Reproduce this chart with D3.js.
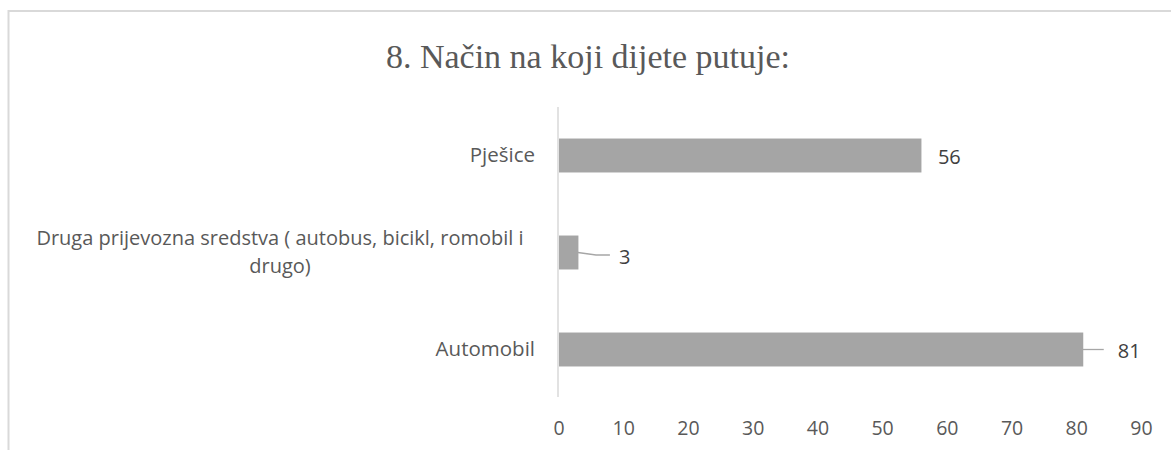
<!DOCTYPE html>
<html><head><meta charset="utf-8">
<script src="https://cdn.jsdelivr.net/npm/d3@7/dist/d3.min.js"></script>
<style>
html,body{margin:0;padding:0;background:#fff;}
svg{display:block;}
</style></head>
<body>
<svg id="chart" width="1171" height="450"></svg>
<script>
const title = "8. Način na koji dijete putuje:";
const categories = ["Pješice", "Druga prijevozna sredstva ( autobus, bicikl, romobil i drugo)", "Automobil"];
const categoryLines = [["Pješice"], ["Druga prijevozna sredstva ( autobus, bicikl, romobil i", "drugo)"], ["Automobil"]];
const values = [56, 3, 81];
const xTicks = [0, 10, 20, 30, 40, 50, 60, 70, 80, 90];

const svg = d3.select("#chart");

// chart frame (cut off at right/bottom like the reference)
svg.append("rect").attr("x", 8.5).attr("y", 11).attr("width", 1200).attr("height", 500)
  .attr("fill", "#fff").attr("stroke", "#d9d9d9").attr("stroke-width", 2);

svg.append("text").attr("x", 588).attr("y", 68).attr("text-anchor", "middle")
  .attr("font-family", "'Liberation Serif','Times New Roman',serif").attr("font-size", 34)
  .attr("fill", "#595959").text(title);

const x = d3.scaleLinear().domain([0, 90]).range([558.5, 1141]);
const y = d3.scaleBand().domain(categories).range([107, 398]).paddingInner(0.65).paddingOuter(0.325);

const font = "'Open Sans', Lato, sans-serif";

// x axis tick labels (no axis line, no ticks)
const xAxis = d3.axisBottom(x).tickValues(xTicks).tickSize(0).tickPadding(0);
const gx = svg.append("g").attr("transform", "translate(0,420)").call(xAxis);
gx.select(".domain").remove();
gx.selectAll("text").attr("font-family", font).attr("font-size", 19.5).attr("fill", "#595959").attr("dy", "0.75em");

// vertical category axis line
svg.append("line").attr("x1", x(0) - 0.5).attr("x2", x(0) - 0.5).attr("y1", 107).attr("y2", 397)
  .attr("stroke", "#d9d9d9").attr("stroke-width", 1.5);

// bars
svg.selectAll("rect.bar").data(values).join("rect").attr("class", "bar")
  .attr("x", x(0) + 0.5).attr("y", (d, i) => y(categories[i]))
  .attr("width", d => x(d) - x(0)).attr("height", y.bandwidth())
  .attr("fill", "#a5a5a5");

// category labels (each line its own text element)
categories.forEach((c, i) => {
  const lines = categoryLines[i];
  const cy = y(c) + y.bandwidth() / 2;
  const lh = 27.6;
  lines.forEach((l, k) => {
    svg.append("text").attr("font-family", font).attr("font-size", lines.length > 1 ? 20 : 20.5).attr("fill", "#595959")
      .attr("text-anchor", lines.length > 1 ? "middle" : "end")
      .attr("x", lines.length > 1 ? 280 : 535)
      .attr("y", cy - 0.5 + (k - (lines.length - 1) / 2) * lh).attr("dy", "0.35em").text(l);
  });
});

// data labels with leader lines
values.forEach((v, i) => {
  const cy = y(categories[i]) + y.bandwidth() / 2;
  const bx = x(v);
  let lx;
  if (v === 56) {
    lx = bx + 17;
  } else if (v === 3) {
    svg.append("path").attr("d", `M${bx},${cy} L${bx + 18},${cy + 2.5} L${bx + 32},${cy + 2.5}`)
      .attr("fill", "none").attr("stroke", "#a6a6a6").attr("stroke-width", 1.3);
    lx = bx + 41;
  } else {
    svg.append("line").attr("x1", bx).attr("x2", bx + 21).attr("y1", cy).attr("y2", cy)
      .attr("stroke", "#a6a6a6").attr("stroke-width", 1.3);
    lx = bx + 35;
  }
  svg.append("text").attr("x", lx).attr("y", cy + (v === 3 ? 4 : 1.5)).attr("dy", "0.35em")
    .attr("font-family", font).attr("font-size", 20).attr("fill", "#404040").text(v);
});
</script>
</body></html>
